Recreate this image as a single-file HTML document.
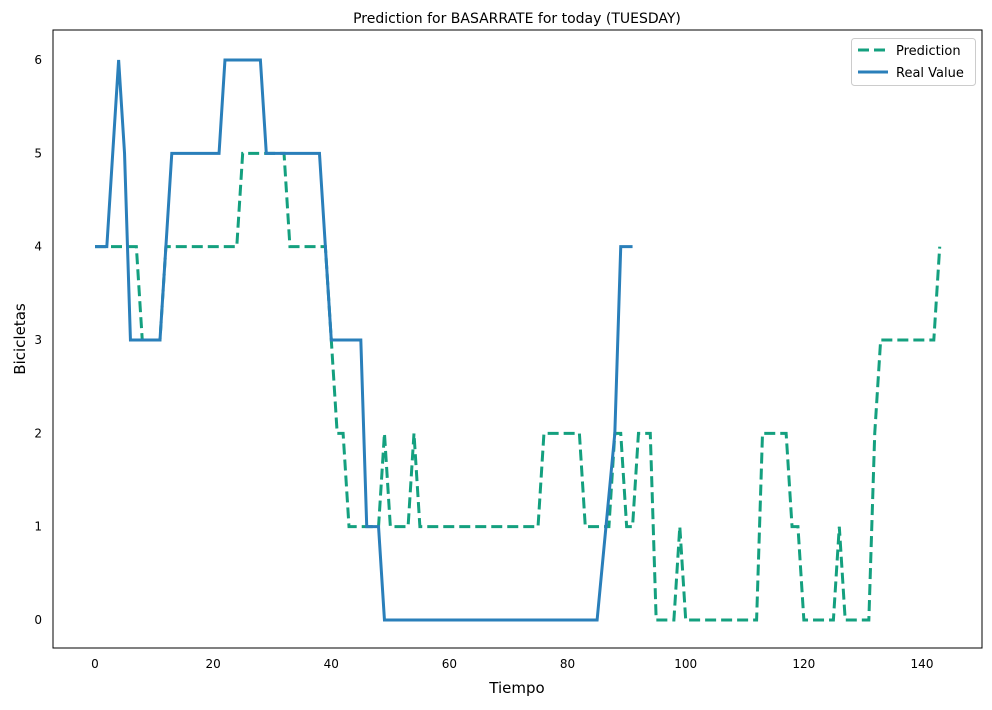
<!DOCTYPE html>
<html><head><meta charset="utf-8"><style>
body{margin:0;background:#fff;font-family:"Liberation Sans","DejaVu Sans",sans-serif}
svg text{font-family:"DejaVu Sans","Liberation Sans",sans-serif}
</style></head><body>
<svg id="c" width="992" height="705" xmlns="http://www.w3.org/2000/svg"></svg>
<script>
const xTicks=[0,20,40,60,80,100,120,140];
const yTicks=[0,1,2,3,4,5,6];
const realX=[0,2,4,5,6,11,13,21,22,28,29,38,40,45,46,48,49,85,88,89,91];
const realY=[4,4,6,5,3,3,5,5,6,6,5,5,3,3,1,1,0,0,2,4,4];
const predX=[0,7,8,11,12,24,25,32,33,39,40,41,42,43,48,49,50,53,54,55,75,76,82,83,87,88,89,90,91,92,94,95,98,99,100,112,113,117,118,119,120,125,126,127,131,132,133,142,143];
const predY=[4,4,3,3,4,4,5,5,4,4,3,2,2,1,1,2,1,1,2,1,1,2,2,1,1,2,2,1,1,2,2,0,0,1,0,0,2,2,1,1,0,0,1,0,0,2,3,3,4];
const NS="http://www.w3.org/2000/svg";
const svg=document.getElementById('c');
const L=53,R=982,T=30,B=648;
const sx=v=>95+v*(922-95)/140;
const sy=v=>620-v*(620-60)/6;
function el(t,a,p){const e=document.createElementNS(NS,t);for(const k in a)e.setAttribute(k,a[k]);(p||svg).appendChild(e);return e;}
let t=el('text',{x:517,y:23,'text-anchor':'middle','font-size':14});t.textContent='Prediction for BASARRATE for today (TUESDAY)';


xTicks.forEach(v=>{const e=el('text',{x:sx(v),y:668,'text-anchor':'middle','font-size':12});e.textContent=v;

});
yTicks.forEach(v=>{const e=el('text',{x:42,y:sy(v)+4,'text-anchor':'end','font-size':12});e.textContent=v;

});
t=el('text',{x:517,y:693,'text-anchor':'middle','font-size':15});t.textContent='Tiempo';


t=el('text',{x:25,y:339,'text-anchor':'middle','font-size':15,transform:'rotate(-90 25 339)'});t.textContent='Bicicletas';


const pts=(X,Y)=>X.map((x,i)=>sx(x)+','+sy(Y[i])).join(' ');
let p=el('polyline',{points:pts(predX,predY),fill:'none',stroke:'#14a07f','stroke-width':3,'stroke-dasharray':'11 5'});


p=el('polyline',{points:pts(realX,realY),fill:'none',stroke:'#2a7fba','stroke-width':3});


p=el('rect',{x:L,y:T,width:R-L,height:B-T,fill:'none',stroke:'#000','stroke-width':1});


const g=el('g',{});


el('rect',{x:851.5,y:38.5,width:124,height:47,rx:3,fill:'#fff',stroke:'#ccc'},g);
el('line',{x1:858,y1:50,x2:888,y2:50,stroke:'#14a07f','stroke-width':3,'stroke-dasharray':'11 5'},g);
el('line',{x1:858,y1:72,x2:888,y2:72,stroke:'#2a7fba','stroke-width':3},g);
t=el('text',{x:896,y:55,'font-size':13},g);t.textContent='Prediction';


t=el('text',{x:896,y:77,'font-size':13},g);t.textContent='Real Value';


</script>
</body></html>
